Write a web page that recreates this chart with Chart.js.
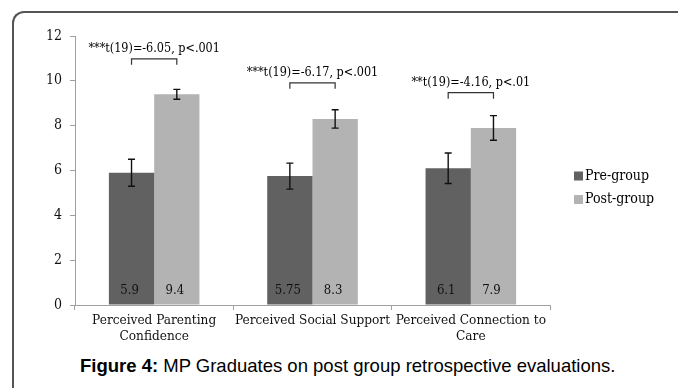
<!DOCTYPE html>
<html>
<head>
<meta charset="utf-8">
<script src="https://cdn.jsdelivr.net/npm/chart.js@4"></script>
<style>
html, body { margin: 0; padding: 0; background: #fff; width: 678px; height: 388px; overflow: hidden; }
#frame { position: absolute; left: 12px; top: 11px; width: 720px; height: 420px;
  border-left: 2px solid #555; border-top: 2px solid #555; border-top-left-radius: 12px; }
#chart { position: absolute; left: 0; top: 0; }
#caption { position: absolute; left: 80px; top: 355px; font-family: "Liberation Sans", Arial, sans-serif;
  font-size: 18.5px; color: #000; white-space: nowrap; }
</style>
</head>
<body>
<div id="frame"></div>
<canvas id="chart" width="678" height="345"></canvas>
<div id="caption"><b>Figure 4:</b> MP Graduates on post group retrospective evaluations.</div>
<script>
const categories = [['Perceived Parenting', 'Confidence'], ['Perceived Social Support'], ['Perceived Connection to', 'Care']];
const preGroup = [5.9, 5.75, 6.1];
const postGroup = [9.4, 8.3, 7.9];
const preError = [0.6, 0.58, 0.68];
const postError = [0.22, 0.41, 0.55];
const tests = ['***t(19)=-6.05, p<.001', '***t(19)=-6.17, p<.001', '**t(19)=-4.16, p<.01'];
const bracketLevels = [10.98, 9.91, 9.47];
const yTicks = [0, 2, 4, 6, 8, 10, 12];

const serif = '"DejaVu Serif Condensed", "DejaVu Serif", serif';

// error bars, value labels, significance brackets and the legend
const overlay = {
    id: 'overlay',
    afterDatasetsDraw(chart) {
        const ctx = chart.ctx;
        const y = chart.scales.y;
        const pre = chart.getDatasetMeta(0).data;
        const post = chart.getDatasetMeta(1).data;
        ctx.save();
        [[pre, preGroup, preError], [post, postGroup, postError]].forEach(([bars, vals, errs]) => {
            bars.forEach((bar, i) => {
                const top = y.getPixelForValue(vals[i] + errs[i]);
                const bot = y.getPixelForValue(vals[i] - errs[i]);
                ctx.strokeStyle = '#111';
                ctx.lineWidth = 1.4;
                ctx.beginPath();
                ctx.moveTo(bar.x, top); ctx.lineTo(bar.x, bot);
                ctx.moveTo(bar.x - 3.5, top); ctx.lineTo(bar.x + 3.5, top);
                ctx.moveTo(bar.x - 3.5, bot); ctx.lineTo(bar.x + 3.5, bot);
                ctx.stroke();

                ctx.fillStyle = '#111';
                ctx.font = '13px ' + serif;
                ctx.textAlign = 'center';
                ctx.textBaseline = 'middle';
                ctx.fillText(String(vals[i]), bar.x - 2, y.bottom - 14);
            });
        });

        tests.forEach((t, i) => {
            const x1 = pre[i].x, x2 = post[i].x;
            const top = y.getPixelForValue(bracketLevels[i]);
            ctx.strokeStyle = '#333';
            ctx.lineWidth = 1.2;
            ctx.beginPath();
            ctx.moveTo(x1, top + 6); ctx.lineTo(x1, top); ctx.lineTo(x2, top); ctx.lineTo(x2, top + 6);
            ctx.stroke();
            ctx.fillStyle = '#000';
            ctx.font = '12.5px ' + serif;
            ctx.textAlign = 'center';
            ctx.textBaseline = 'middle';
            ctx.fillText(t, (x1 + x2) / 2, top - 10);
        });

        const area = chart.chartArea;
        chart.data.datasets.forEach((ds, i) => {
            const cy = 176 + i * 23.5;
            ctx.fillStyle = ds.backgroundColor;
            ctx.fillRect(area.right + 24, cy - 4.5, 9, 9);
            ctx.fillStyle = '#000';
            ctx.font = '14px ' + serif;
            ctx.textAlign = 'left';
            ctx.textBaseline = 'middle';
            ctx.fillText(ds.label, area.right + 35, cy);
        });
        ctx.restore();
    }
};

new Chart(document.getElementById('chart'), {
    type: 'bar',
    data: {
        labels: categories,
        datasets: [
            { label: 'Pre-group', data: preGroup, backgroundColor: '#616161' },
            { label: 'Post-group', data: postGroup, backgroundColor: '#b3b3b3' }
        ]
    },
    options: {
        responsive: false,
        animation: false,
        layout: { padding: { top: 36, right: 128, bottom: 0, left: 0 } },
        datasets: { bar: { categoryPercentage: 0.572, barPercentage: 1 } },
        plugins: { legend: { display: false }, tooltip: { enabled: false } },
        scales: {
            x: {
                grid: { drawOnChartArea: false, tickLength: 5, color: '#a0a0a0', offset: true },
                border: { color: '#a0a0a0' },
                ticks: { font: { family: serif, size: 13.5, lineHeight: 1.15 }, color: '#111',
                    maxRotation: 0, minRotation: 0, autoSkip: false, padding: 3 },
                afterFit(axis) { axis.height = 40; }
            },
            y: {
                min: 0, max: 12,
                grid: { drawOnChartArea: false, tickLength: 5, color: '#a0a0a0' },
                border: { color: '#a0a0a0' },
                ticks: { font: { family: serif, size: 14 }, color: '#111', padding: 8 },
                afterBuildTicks(axis) { axis.ticks = yTicks.map(v => ({ value: v })); },
                afterFit(axis) { axis.width = 75; }
            }
        }
    },
    plugins: [overlay]
});
</script>
</body>
</html>
